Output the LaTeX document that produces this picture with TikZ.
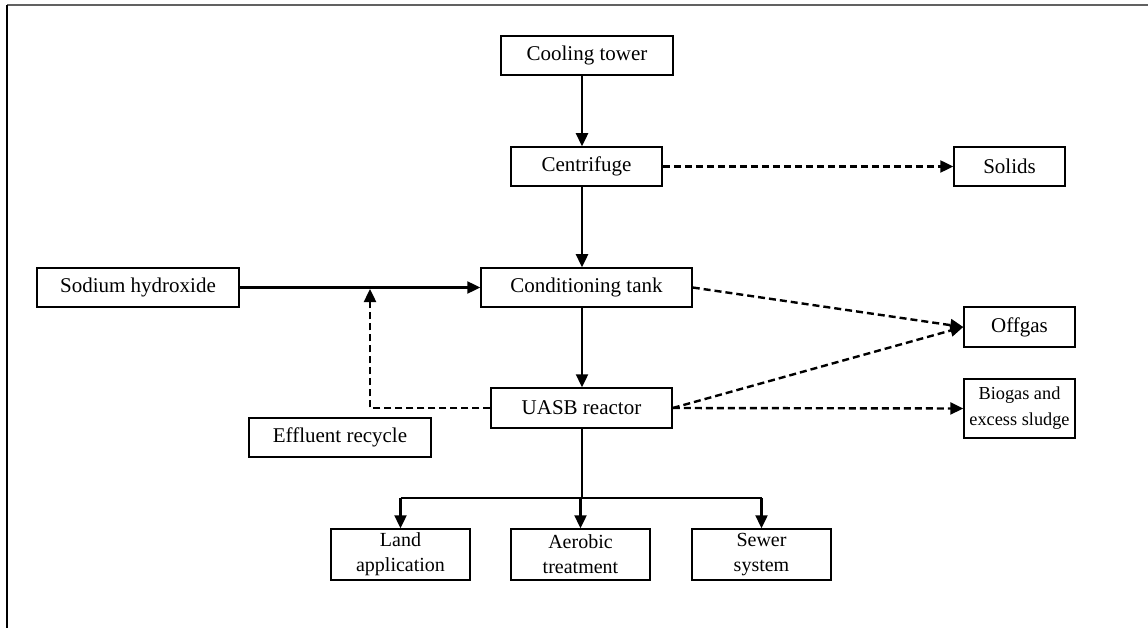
\documentclass[tikz,border=0pt]{standalone}
\usepackage{fontspec}
\setmainfont{Liberation Serif}
\usetikzlibrary{arrows.meta}
\begin{document}
\begin{tikzpicture}[x=1pt,y=-1pt,
  box/.style={draw=black,line width=1.5pt,inner sep=0pt,align=center,
    font=\fontsize{21}{25}\selectfont},
  two/.style={font=\fontsize{20}{25}\selectfont},
  arr/.style={line width=2.4pt,-{Triangle[length=13pt,width=12pt]}},
  plain/.style={line width=2.4pt},
  darr/.style={line width=2.4pt,dash pattern=on 7pt off 4pt,-{Triangle[length=13pt,width=12pt]}}]
\useasboundingbox (0,0) rectangle (1148,628);
% frame (top and left edges)
\draw[line width=1.8pt,draw=black!62] (7,5) -- (1148,5);
\draw[line width=1.8pt] (7,5) -- (7,628);
% nodes
\node[box,minimum width=172pt,minimum height=39pt] (cool) at (587,55.5) {Cooling tower};
\node[box,minimum width=151pt,minimum height=39pt] (cent) at (586.5,166.5) {Centrifuge};
\node[box,minimum width=111pt,minimum height=39pt] (sol) at (1009.5,166.5) {Solids};
\node[box,minimum width=202pt,minimum height=39pt] (soda) at (138,287.5) {Sodium hydroxide};
\node[box,minimum width=211pt,minimum height=39pt] (cond) at (586.5,287.5) {Conditioning tank};
\node[box,minimum width=111pt,minimum height=40pt] (off) at (1019.5,327) {Offgas};
\node[box,minimum width=181pt,minimum height=40pt] (uasb) at (581.5,408) {UASB reactor};
\node[box,minimum width=182pt,minimum height=39pt] (eff) at (340,437.5) {Effluent recycle};
\node[box,minimum width=111pt,minimum height=59pt,font=\fontsize{18.3}{26}\selectfont] (bio) at (1019.5,408.5) {Biogas and\\excess sludge};
\node[box,two,minimum width=139pt,minimum height=51pt] (land) at (400.5,554.5) {Land\\application};
\node[box,two,minimum width=139pt,minimum height=51pt] (aero) at (580.5,554.5) {Aerobic\\treatment};
\node[box,two,minimum width=139pt,minimum height=51pt] (sew) at (761.5,554.5) {Sewer\\system};
% helper coordinates
\coordinate (spine) at (582,0);
\coordinate (jn) at (370,289);
\coordinate (split) at (582,498);
\coordinate (lsplit) at (400.5,498);
\coordinate (rsplit) at (761.5,498);
% solid connectors
\draw[arr] (cool.south -| spine) -- (cent.north -| spine);
\draw[arr] (cent.south -| spine) -- (cond.north -| spine);
\draw[arr] (cond.south -| spine) -- (uasb.north -| spine);
\draw[arr] (soda.east) -- (cond.west);
\draw[plain] (uasb.south -| spine) -- (split);
\draw[plain] (lsplit) -- (rsplit);
\draw[arr] (lsplit) -- (land.north);
\draw[arr] (split -| aero.north) -- (aero.north);
\draw[arr] (rsplit) -- (sew.north);
% dashed connectors
\draw[darr] (cent.east) -- (sol.west);
\draw[darr] (cond.east) -- (off.west);
\draw[darr] (uasb.east) -- (off.west);
\draw[darr] (uasb.east) -- (bio.west);
\draw[darr] (uasb.west) -| (jn);
\end{tikzpicture}
\end{document}
